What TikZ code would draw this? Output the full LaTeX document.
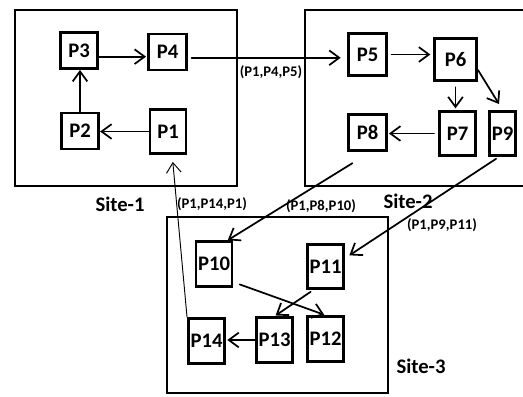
\documentclass[tikz,border=0pt]{standalone}
\usepackage{fontspec}
\setmainfont{Carlito}
\usetikzlibrary{arrows.meta}

\begin{document}
\begin{tikzpicture}[x=0.75pt,y=-0.75pt,>={Straight Barb[length=7.5pt,width=11pt]},
	font=\bfseries\fontsize{15.5}{17}\selectfont, line cap=round,
	proc/.style={draw,line width=2.2pt,inner sep=0pt,minimum width=28pt,minimum height=27pt},
	tall/.style={minimum width=27pt,minimum height=33.5pt},
	site/.style={line width=2.2pt},
	link/.style={->,line width=1.3pt},
	lbl/.style={font=\bfseries\fontsize{11}{12}\selectfont}]
	\useasboundingbox (0,0) rectangle (523,396);
	% sites
	\draw[site] (15,10) rectangle (237,186);
	\draw[site] (523,10) -- (305,10) -- (305,186) -- (523,186);
	\draw[site] (167,217) rectangle (388,393);
	\node (s1) at (120,204) {Site-1};
	\node (s2) at (408,201) {Site-2};
	\node (s3) at (421,366) {Site-3};
	% processes
	\node[proc] (p3) at (79,50.5) {P3};
	\node[proc] (p4) at (167.5,52) {P4};
	\node[proc] (p2) at (80,131) {P2};
	\node[proc,tall] (p1) at (168,131.5) {P1};
	\node[proc,minimum height=31.5pt] (p5) at (367.5,54.5) {P5};
	\node[proc,minimum width=31.5pt,minimum height=31.5pt] (p6) at (455.5,59.5) {P6};
	\node[proc,tall] (p7) at (457.5,133.5) {P7};
	\node[proc] (p8) at (367.5,132.5) {P8};
	\node[proc,tall,minimum width=19.5pt] (p9) at (502.5,133.5) {P9};
	\node[proc,tall] (p10) at (214,264) {P10};
	\node[proc,tall] (p11) at (325.5,266.5) {P11};
	\node[proc,tall] (p12) at (325.5,339) {P12};
	\node[proc,tall] (p13) at (274.5,340) {P13};
	\node[proc,tall] (p14) at (206.5,341) {P14};
	% messages
	\draw[link,shorten >=1pt] (p3.-17) -- (p3.-17 -| p4.west);
	\draw[link] (p2.north) -- (p2.north |- p3.south);
	\draw[link] (p1.west) -- (p1.west -| p2.east);
	\draw[link,shorten <=3pt,shorten >=5pt] (p4.-16) -- (p4.-16 -| p5.west);
	\draw[link,shorten <=3pt,shorten >=2pt] (p5.east) -- (p5.east -| p6.west);
	\draw[link,shorten <=4pt,shorten >=1pt] (p6.south) -- (p6.south |- p7.north);
	\draw[link,shorten >=5pt] (p6.-25) -- (p9.north);
	\draw[link,shorten <=3pt,shorten >=1pt] (p7.west) -- (p7.west -| p8.east);
	\draw[link,shorten <=16pt] (p8.-81) -- (p10.60);
	\draw[link,shorten <=2pt,shorten >=4pt] (p9.-100) -- (p11.23);
	\draw[link,shorten <=5pt,shorten >=1pt] (p10.-43) -- (p12.north);
	\draw[link,shorten <=2pt,shorten >=1pt] (p11.-118) -- (p13.north);
	\draw[link,shorten >=1pt] (p13.west) -- (p13.west -| p14.east);
	\draw[link,line width=0.7pt,shorten >=5pt] (p14.north west) -- (p1.-80);
	% labels
	\node[lbl] (m45) at (271,72) {(P1,P4,P5)};
	\node[lbl] (m141) at (212,204) {(P1,P14,P1)};
	\node[lbl] (m810) at (321,206) {(P1,P8,P10)};
	\node[lbl] (m911) at (442,225) {(P1,P9,P11)};
\end{tikzpicture}
\end{document}
